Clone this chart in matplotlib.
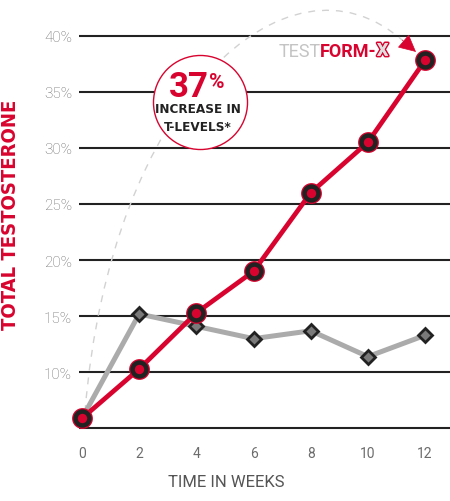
"""Total testosterone over time: TestForm-X vs comparison."""

import matplotlib

matplotlib.use("Agg")
import matplotlib.pyplot as plt  # noqa: E402
import matplotlib.patheffects as pe  # noqa: E402
from matplotlib.path import Path  # noqa: E402
from matplotlib.patches import PathPatch, FancyArrowPatch  # noqa: E402

PALETTE = {
    "red": "#d8042f",
    "grid": "#222222",
    "grey_line": "#ababab",
    "diamond": "#7a7a7a",
    "tick": "#6c6c6c",
    "dash": "#d2d2d2",
    "light": "#c4c4c4",
    "ink": "#222222",
}

weeks = [0, 2, 4, 6, 8, 10, 12]
testform_x = [5.9, 10.3, 15.3, 19.0, 26.0, 30.5, 37.8]
comparison = [5.9, 15.2, 14.1, 13.0, 13.7, 11.4, 13.3]
y_ticks = [5, 10, 15, 20, 25, 30, 35, 40]
y_tick_labels = ["", "10%", "15%", "20%", "25%", "30%", "35%", "40%"]
x_tick_labels = ["0", "2", "4", "6", "8", "10", "12"]

fig = plt.figure(figsize=(4.5, 5.02), dpi=100, facecolor="white")
ax = fig.add_axes([79 / 450, 62 / 502, 371 / 450, 430 / 502])
ax.set_xlim(-0.105, 12.87)
ax.set_ylim(4.06, 42.37)
for spine in ax.spines.values():
    spine.set_visible(False)

ax.set_yticks(y_ticks)
ax.set_yticklabels(y_tick_labels, fontsize=11, color=PALETTE["tick"], family="Roboto", fontweight="light")
ax.set_xticks(weeks)
ax.set_xticklabels(x_tick_labels, fontsize=10, color=PALETTE["tick"], family="Roboto")
ax.tick_params(axis="y", length=0, pad=5)
ax.tick_params(axis="x", length=0, pad=5)
ax.grid(axis="y", color=PALETTE["grid"], lw=1.5, zorder=1)
ax.set_axisbelow(True)

# dashed "growth" arc from week 0 up over the chart to the last point
arc = Path(
    [(0.105, 6.47), (0.98, 34.4), (7.2, 48.5), (11.2, 39.6)],
    [Path.MOVETO, Path.CURVE4, Path.CURVE4, Path.CURVE4],
)
ax.add_patch(PathPatch(arc, fill=False, ec=PALETTE["dash"], lw=1.0, ls=(0, (5, 5)), zorder=2, clip_on=False))
ax.add_patch(
    FancyArrowPatch(
        (11.2, 39.6),
        (11.68, 38.55),
        arrowstyle="-|>,head_length=0.8,head_width=0.4",
        mutation_scale=14,
        color=PALETTE["red"],
        lw=0.5,
        shrinkA=0,
        shrinkB=0,
        zorder=3,
        clip_on=False,
    )
)

# comparison series
ax.plot(weeks, comparison, color=PALETTE["grey_line"], lw=3.6, zorder=5)
ax.plot(
    weeks[1:], comparison[1:], ls="none", marker="D", ms=7, mfc=PALETTE["diamond"],
    mec=PALETTE["grid"], mew=2.0, zorder=6,
)

# TestForm-X series
ax.plot(weeks, testform_x, color=PALETTE["red"], lw=3.4, zorder=7)
ax.plot(weeks, testform_x, ls="none", marker="o", ms=15, mfc=PALETTE["red"], mew=0, zorder=8, clip_on=False)
ax.plot(
    weeks, testform_x, ls="none", marker="o", ms=10, mfc=PALETTE["red"],
    mec=PALETTE["grid"], mew=3.2, zorder=9, clip_on=False,
)

# callout circle
cond = dict(family="DejaVu Sans", fontstretch="condensed", fontweight="bold")
ax.scatter([4.13], [34.1], s=4583, facecolor="white", edgecolor=PALETTE["red"], lw=1.0, zorder=4)
t37 = ax.text(4.43, 34.66, "37", ha="right", va="baseline", fontsize=25, fontweight="bold",
              family="Roboto", color=PALETTE["red"], zorder=10)
ax.annotate("%", xy=(1, 0.92), xycoords=t37, ha="left", va="top", fontsize=15, fontweight="bold",
            family="Roboto", color=PALETTE["red"], zorder=10)
ax.text(4.06, 33.5, "INCREASE IN", ha="center", va="center", fontsize=9.6,
        color=PALETTE["ink"], zorder=10, **cond)
ax.text(4.06, 31.92, "T-LEVELS*", ha="center", va="center", fontsize=9.6,
        color=PALETTE["ink"], zorder=10, **cond)

# brand label near the last point
t_test = ax.text(6.86, 38.64, "TEST", ha="left", va="center", fontsize=13,
                 color=PALETTE["light"], family="Roboto", zorder=10)
t_form = ax.annotate("FORM-", xy=(1, 0), xycoords=t_test, ha="left", va="bottom", fontsize=13,
                     fontweight="bold", color=PALETTE["red"], family="Roboto", zorder=10)
ax.annotate(
    "X", xy=(1, 0), xycoords=t_form, ha="left", va="bottom", fontsize=13, fontweight="bold",
    color="#dedede", family="Roboto", zorder=10,
    path_effects=[pe.withStroke(linewidth=2.2, foreground=PALETTE["red"]), pe.Normal()],
)

fig.text(11 / 450, 1 - 215 / 502, "TOTAL TESTOSTERONE", rotation=90, ha="center", va="center",
         fontsize=14.5, color=PALETTE["red"], family="DejaVu Sans", fontweight="bold",
         fontstretch="condensed")
fig.text(226 / 450, 1 - 483 / 502, "TIME IN WEEKS", ha="center", va="center", fontsize=12,
         color="#555555", family="Roboto")

fig.savefig("out.png", dpi=100, facecolor="white")
